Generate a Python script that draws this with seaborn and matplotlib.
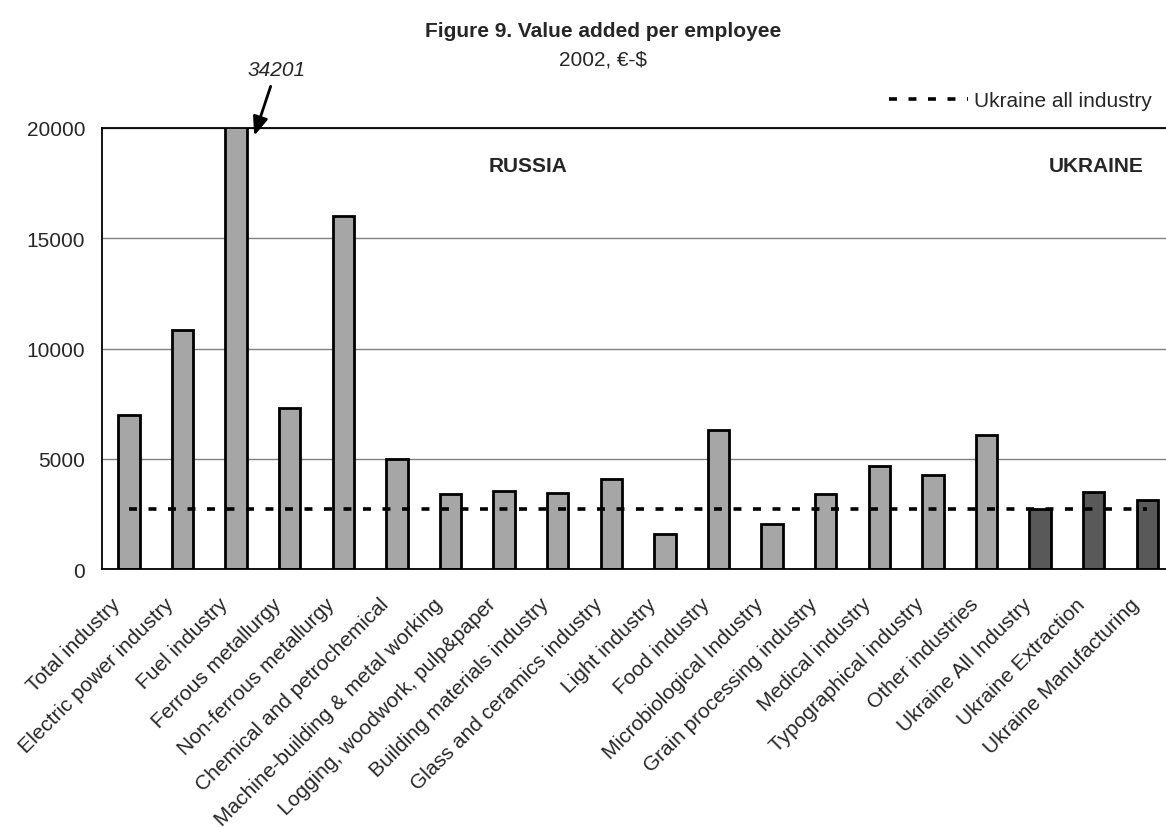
import numpy as np
import pandas as pd
import matplotlib
matplotlib.use("Agg")
import matplotlib.pyplot as plt
import matplotlib.transforms as mtransforms
import seaborn as sns

# values (euro-dollar per employee, 2002)
categories = [
    "Total industry", "Electric power industry", "Fuel industry",
    "Ferrous metallurgy", "Non-ferrous metallurgy", "Chemical and petrochemical",
    "Machine-building & metal working", "Logging, woodwork, pulp&paper",
    "Building materials industry", "Glass and ceramics industry",
    "Light industry", "Food industry", "Microbiological Industry",
    "Grain processing industry", "Medical industry", "Typographical industry",
    "Other industries", "Ukraine All Industry", "Ukraine Extraction",
    "Ukraine Manufacturing",
]
values = [7000, 10830, 34201, 7320, 16030, 5010, 3420, 3530, 3440, 4080,
          1590, 6320, 2030, 3390, 4690, 4270, 6070, 2720, 3510, 3130]
country = ["Russia"] * 17 + ["Ukraine"] * 3
ukraine_all = 2720
fuel_label = "34201"

df = pd.DataFrame({"industry": categories, "value": values, "country": country})

sns.set_style("white")
plt.rcParams["font.family"] = ["Liberation Sans", "DejaVu Sans"]

fig = plt.figure(figsize=(11.66, 8.29), dpi=100)
ax = fig.add_axes([0.0875, 0.3124, 0.9125, 0.532])

sns.barplot(data=df, x="industry", y="value", hue="country",
            palette={"Russia": "#a6a6a6", "Ukraine": "#595959"},
            dodge=False, width=0.4, edgecolor="black", linewidth=2,
            legend=False, ax=ax)

pos = np.arange(len(categories))
ax.plot(pos, [ukraine_all] * len(pos), color="black", lw=2.6,
        dashes=(2.2, 3.2), label="Ukraine all industry")

ax.set_ylim(0, 20000)
ax.set_xlim(-0.5, 19.35)
ax.set_yticks([0, 5000, 10000, 15000, 20000])
ax.yaxis.grid(True, color="#808080", lw=1)
ax.set_axisbelow(True)
ax.set_xlabel("")
ax.set_ylabel("")

for s in ["left", "bottom", "top"]:
    ax.spines[s].set_color("black")
    ax.spines[s].set_linewidth(1.3)
ax.spines["right"].set_visible(False)

ax.set_xticks(pos)
ax.set_xticklabels(categories, rotation=45, ha="right", rotation_mode="anchor",
                   fontsize=15)
ax.tick_params(axis="x", length=0, pad=8)
shift = mtransforms.ScaledTranslation(-18 / 100, -14 / 100, fig.dpi_scale_trans)
for lab in ax.get_xticklabels():
    lab.set_transform(lab.get_transform() + shift)
ax.set_xticks(pos[:-1] + 0.5, minor=True)
ax.tick_params(axis="x", which="minor", direction="in", length=6, width=1,
               color="#404040")
ax.tick_params(axis="y", direction="in", length=6, width=1, labelsize=15, pad=12)

ax.text(7.45, 18300, "RUSSIA", fontsize=15, fontweight="bold", ha="center", va="center")
ax.text(18.05, 18300, "UKRAINE", fontsize=15, fontweight="bold", ha="center", va="center")

ax.annotate(fuel_label, xy=(2.34, 19650), xytext=(2.75, 22650),
            fontsize=15, style="italic", ha="center", va="center",
            annotation_clip=False,
            arrowprops=dict(arrowstyle="-|>,head_length=0.75,head_width=0.3",
                            color="black", lw=2, shrinkA=3, shrinkB=0))

ax.legend(loc="center right", bbox_to_anchor=(0.995, 1.062), frameon=False,
          fontsize=15, handlelength=3.8, handletextpad=0.3, borderaxespad=0)

fig.text(0.517, 0.9625, "Figure 9. Value added per employee", fontsize=15,
         fontweight="bold", ha="center", va="center")
fig.text(0.517, 0.928, "2002, €-$", fontsize=15, ha="center", va="center")

fig.savefig("out.png", dpi=100)
